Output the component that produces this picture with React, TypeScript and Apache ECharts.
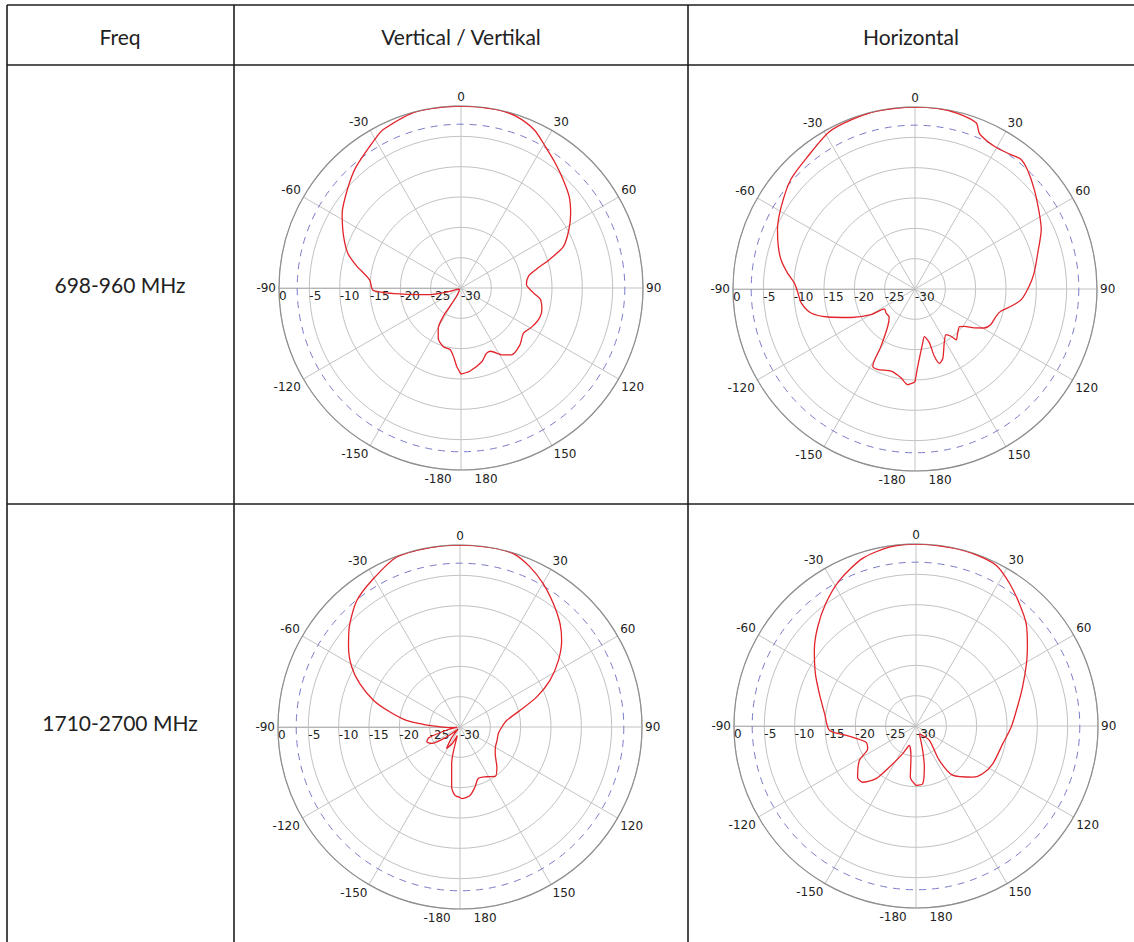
import React, { useEffect, useRef } from "react";
import * as echarts from "echarts";

// ---------------- Data ----------------
const columnHeaders = ["Freq", "Vertical / Vertikal", "Horizontal"];
const bandLabels = ["698-960 MHz", "1710-2700 MHz"];

// 698-960 MHz, vertical pattern (angle in degrees, gain in dB)
const lowVerticalAngles = [-180, -176.8, -173.6, -169.9, -163.2, -155.6, -150.5, -148, -149, -152, -135, -118, -107, -102, -96, -91.5, -85, -78, -73, -66, -58, -49, -41, -30, -26, -14, 0, 11, 18, 25, 31, 37, 43, 50, 56, 62, 68, 72, 76, 80, 87, 94, 98, 105, 112, 119, 126, 134, 143, 148, 155, 159, 164, 174, 180];
const lowVerticalGain = [-15.8, -17.1, -18.7, -19.7, -19.9, -20.9, -22.4, -24.5, -26.5, -28.5, -29.6, -29.6, -28.1, -24.8, -20.4, -15.5, -14.9, -12.4, -10.5, -8.8, -6.9, -5.2, -3.6, -1.65, -0.9, 0, 0, 0, -0.3, -1.3, -2.9, -4.2, -5.4, -6.7, -8.2, -9.9, -11.8, -14.6, -17.2, -18.7, -19.2, -18.0, -16.8, -16.2, -16.2, -16.7, -17.3, -16.5, -16.2, -17.0, -18.5, -18.4, -17.4, -16.2, -15.8];

// 698-960 MHz, horizontal pattern
const lowHorizontalAngles = [-180, -175.6, -171, -163.8, -155, -151.3, -149.3, -143.8, -137.5, -129.6, -123, -120.3, -114.1, -107.8, -103, -97, -92, -87.2, -82.8, -77.7, -72.7, -66.6, -58.3, -48.6, -39, -28.7, -20.3, -11.8, 0, 7, 13.6, 20.2, 22.4, 26.2, 30.4, 35.5, 39.3, 43.4, 50.2, 58.6, 64.8, 73.6, 82.4, 88.7, 95.7, 100.2, 104.6, 108.6, 115.1, 119.4, 123.3, 127.1, 130.1, 135.9, 141, 142.7, 145.8, 151.5, 158.1, 161.8, 164, 165, 168.8, 171.9, 178, 180];
const lowHorizontalGain = [-14.7, -14.2, -15.2, -15.9, -15.4, -15.5, -19.0, -22.4, -23.7, -23.8, -24.0, -21.6, -18.5, -14.9, -12.4, -11.1, -10.7, -10.1, -8.8, -7.4, -6.4, -5.3, -4.1, -2.7, -1.9, -0.5, -0.2, 0, 0, 0, -0.2, -0.8, -2.2, -2.9, -3.1, -2.8, -2.4, -3.0, -4.4, -6.0, -7.0, -8.9, -10.2, -11.2, -12.4, -13.9, -15.4, -15.9, -16.2, -16.9, -18.3, -19.8, -20.4, -19.9, -19.2, -20.2, -20.9, -19.9, -17.7, -17.1, -18.5, -20.8, -22.0, -21.0, -17.2, -14.7];

// 1710-2700 MHz, vertical pattern
const highVerticalAngles = [-180, -175.8, -172.1, -167.2, -163, -155, -148, -143, -136, -126, -120, -114, -109, -103, -97, -94, -88.4, -85.8, -82.9, -77.9, -72.9, -66.6, -61, -54.4, -47.9, -39.2, -30.3, -20.4, -9.5, 0, 9.4, 17.1, 23.6, 30.2, 37.1, 44.1, 49.6, 55.9, 62.6, 68.6, 74.5, 81.9, 90, 99.9, 110, 119.3, 127.3, 137.5, 144.6, 151.9, 160.5, 166, 171.7, 178.7, 180];
const highVerticalGain = [-18.4, -18.7, -20.0, -23.8, -28.5, -27, -25.8, -27.5, -29.5, -27, -24.6, -24.0, -24.6, -27.8, -29.5, -28.4, -26.2, -23.9, -21.1, -18.2, -15.1, -12.0, -9.6, -7.4, -5.4, -3.1, -1.7, -0.1, 0, 0, 0, -0.1, -1.2, -2.7, -4.5, -6.3, -8.0, -10.4, -13.3, -16.4, -19.7, -22.2, -23.1, -23.6, -23.5, -23.3, -22.7, -21.0, -20.0, -20.7, -21.0, -19.8, -18.6, -18.2, -18.4];

// 1710-2700 MHz, horizontal pattern
const highHorizontalAngles = [-180, -173.7, -170.8, -161, -154.3, -147, -142.8, -136.4, -131.2, -121.2, -115.1, -107.7, -97.6, -92.9, -82.3, -71.5, -62.5, -53.3, -44.8, -36.3, -27.8, -17.7, -8.5, 0, 12.4, 20, 26.5, 33.3, 40.2, 47.1, 54.7, 60.6, 69.9, 79.4, 90.6, 101.5, 116.2, 125.6, 132, 143.4, 145.8, 137, 156, 164.7, 168.5, 173.4, 180];
const highHorizontalGain = [-20.2, -21.5, -24.8, -26.6, -24.9, -21.9, -19.1, -17.2, -17.2, -19.1, -21.2, -21.3, -18.4, -15.7, -14.8, -13.2, -11.3, -9.1, -7.0, -4.9, -2.9, -1.0, -0.2, 0, 0, -0.1, -0.4, -1.9, -3.6, -5.2, -7.5, -9.1, -11.3, -13.0, -14.3, -15.4, -15.9, -16.5, -17.4, -19.9, -23.2, -26.8, -28.6, -25.8, -23.1, -20.4, -20.2];

// reference level (half-power) and scale
const halfPowerLevel = -3;
const gainMin = -30;
const gainMax = 0;
const gainStep = 5;
const angleStep = 30;

// ---------------- Layout ----------------
const W = 1134;
const H = 942;
const R = 182;
const panels = [
  { center: [461, 288], angles: lowVerticalAngles, gains: lowVerticalGain },
  { center: [915, 289], angles: lowHorizontalAngles, gains: lowHorizontalGain },
  { center: [460, 727], angles: highVerticalAngles, gains: highVerticalGain },
  { center: [916, 726], angles: highHorizontalAngles, gains: highHorizontalGain },
];

const toPolar = (angles: number[], gains: number[]) =>
  angles.map((a, i) => [gains[i], a < -90 ? a + 360 : a]);

const angleLabel = (v: number) => {
  if (v === 180) return "-180      180";
  if (v >= 270) return "";
  return String(v > 180 ? v - 360 : v);
};

const tickFont = { fontFamily: "DejaVu Sans", fontSize: 12, color: "#222" };
const headFont = "21px Lato";

function buildOption() {
  const n = panels.length;
  const graphic: any[] = [];
  const lineStyle = { stroke: "#1e1e1e", lineWidth: 1.6 };
  [7, 234, 688].forEach((x) =>
    graphic.push({ type: "line", shape: { x1: x, y1: 5, x2: x, y2: H }, style: lineStyle, silent: true })
  );
  [5, 65, 504].forEach((y) =>
    graphic.push({ type: "line", shape: { x1: 7, y1: y, x2: W, y2: y }, style: lineStyle, silent: true })
  );
  const headX = [120, 461, 911];
  columnHeaders.forEach((t, i) =>
    graphic.push({
      type: "text",
      x: headX[i],
      y: 36,
      style: { text: t, font: headFont, fill: "#222", textAlign: "center", textVerticalAlign: "middle", align: "center", verticalAlign: "middle" },
    })
  );
  const rowY = [284, 722];
  bandLabels.forEach((t, i) =>
    graphic.push({
      type: "text",
      x: 120,
      y: rowY[i],
      style: { text: t, font: headFont, fill: "#222", textAlign: "center", textVerticalAlign: "middle", align: "center", verticalAlign: "middle" },
    })
  );

  return {
    animation: false,
    backgroundColor: "#ffffff",
    graphic,
    polar: [
      ...panels.map((p) => ({ center: p.center, radius: R })),
      ...panels.map((p) => ({ center: p.center, radius: (R * (halfPowerLevel - gainMin)) / (gainMax - gainMin) })),
    ],
    angleAxis: [
      ...panels.map((_, i) => ({
        polarIndex: i,
        type: "value",
        min: -90,
        max: 270,
        interval: angleStep,
        startAngle: 180,
        clockwise: true,
        axisLine: { show: true, lineStyle: { color: "#8f8f8f", width: 1.2 } },
        axisTick: { show: false },
        axisLabel: { show: true, margin: 3, formatter: angleLabel, ...tickFont },
        splitLine: { show: true, lineStyle: { color: "#c2c2c2", width: 1 } },
      })),
      ...panels.map((_, i) => ({
        polarIndex: i + n,
        type: "value",
        min: -90,
        max: 270,
        interval: angleStep,
        startAngle: 180,
        clockwise: true,
        axisLine: { show: true, lineStyle: { color: "#7b7bc9", width: 1, type: [7, 6] } },
        axisTick: { show: false },
        axisLabel: { show: false },
        splitLine: { show: false },
      })),
    ],
    radiusAxis: [
      ...panels.map((_, i) => ({
        polarIndex: i,
        type: "value",
        min: gainMin,
        max: gainMax,
        interval: gainStep,
        axisLine: { show: true, lineStyle: { color: "#b5b5b5", width: 1 } },
        axisTick: { show: false },
        axisLabel: { show: true, margin: 2, align: "left", ...tickFont },
        splitLine: { show: true, lineStyle: { color: "#c2c2c2", width: 1 } },
      })),
      ...panels.map((_, i) => ({
        polarIndex: i + n,
        type: "value",
        min: gainMin,
        max: halfPowerLevel,
        show: false,
      })),
    ],
    series: panels.map((p, i) => ({
      type: "line",
      coordinateSystem: "polar",
      polarIndex: i,
      data: toPolar(p.angles, p.gains),
      symbol: "none",
      smooth: 0.25,
      clip: false,
      z: 5,
      lineStyle: { color: "#e3232a", width: 1.3 },
    })),
  };
}

export default function App() {
  const ref = useRef<HTMLDivElement>(null);
  useEffect(() => {
    if (!ref.current) return;
    const chart = echarts.init(ref.current, undefined, { renderer: "svg" });
    chart.setOption(buildOption() as any);
    return () => chart.dispose();
  }, []);
  return (
    <div
      ref={ref}
      style={{ position: "absolute", left: 0, top: 0, width: W, height: H, background: "#fff" }}
    />
  );
}
